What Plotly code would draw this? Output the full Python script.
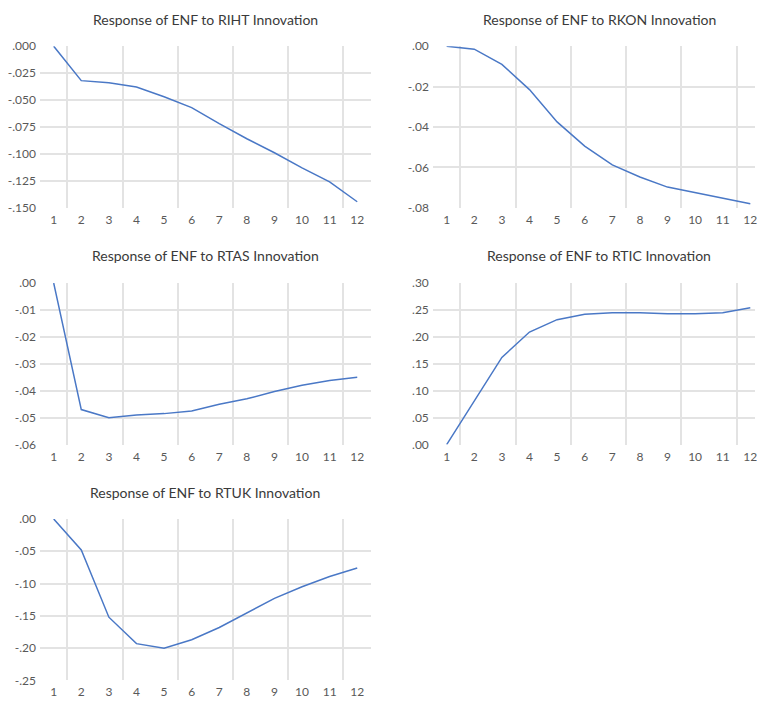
import plotly.graph_objects as go

# ---- data ----
periods = list(range(1, 13))
period_labels = [str(p) for p in periods]

resp_riht = [0.0, -0.032, -0.034, -0.038, -0.047, -0.057, -0.072, -0.086, -0.099, -0.113, -0.126, -0.1445]
resp_rkon = [0.0, -0.0015, -0.009, -0.0215, -0.0375, -0.0495, -0.0588, -0.0648, -0.0698, -0.0725, -0.075, -0.078]
resp_rtas = [0.0, -0.047, -0.050, -0.049, -0.0485, -0.0475, -0.045, -0.043, -0.0403, -0.038, -0.0362, -0.035]
resp_rtic = [0.0, 0.081, 0.162, 0.209, 0.232, 0.242, 0.245, 0.245, 0.243, 0.243, 0.245, 0.254]
resp_rtuk = [0.0, -0.048, -0.152, -0.193, -0.200, -0.187, -0.168, -0.145, -0.123, -0.105, -0.089, -0.076]

yticks_riht = [0.0, -0.025, -0.05, -0.075, -0.1, -0.125, -0.15]
yticks_rkon = [0.0, -0.02, -0.04, -0.06, -0.08]
yticks_rtas = [0.0, -0.01, -0.02, -0.03, -0.04, -0.05, -0.06]
yticks_rtic = [0.30, 0.25, 0.20, 0.15, 0.10, 0.05, 0.0]
yticks_rtuk = [0.0, -0.05, -0.10, -0.15, -0.20, -0.25]

titles = [
    "Response of ENF to RIHT Innovation",
    "Response of ENF to RKON Innovation",
    "Response of ENF to RTAS Innovation",
    "Response of ENF to RTIC Innovation",
    "Response of ENF to RTUK Innovation",
]


def fmt(v, dec):
    s = f"{v:.{dec}f}"
    if s.startswith("-") and float(s) == 0:
        s = s[1:]
    if s.startswith("0."):
        s = s[1:]
    elif s.startswith("-0."):
        s = "-" + s[2:]
    return s


W, H = 757, 710
LINE = "#4a78c6"
GRID = "#e3e3e3"
TXT = "#595959"
FONT = "Lato"

left_x = [40 / W, 372 / W]
right_x = [434 / W, 1.0]
rows_y = [
    [1 - 204 / H, 1 - 39 / H],
    [1 - 446 / H, 1 - 281 / H],
    [1 - 687 / H, 1 - 522 / H],
]
title_y = [1 - 12 / H, 1 - 253 / H, 1 - 495 / H]
title_x = [206 / W, 601 / W]

panels = [
    (resp_riht, yticks_riht, 3, 0, 0, [0.5, 12.5]),
    (resp_rkon, yticks_rkon, 2, 1, 0, [0.5, 12.17]),
    (resp_rtas, yticks_rtas, 2, 0, 1, [0.5, 12.5]),
    (resp_rtic, yticks_rtic, 2, 1, 1, [0.5, 12.17]),
    (resp_rtuk, yticks_rtuk, 2, 0, 2, [0.5, 12.5]),
]

fig = go.Figure()
annotations = []
grid_x = [p + 0.5 for p in periods[:-1:2]]

for i, (vals, yt, dec, col, row, xr) in enumerate(panels):
    n = "" if i == 0 else str(i + 1)
    xdom = left_x if col == 0 else right_x
    fig.add_trace(go.Scatter(
        x=periods, y=vals, mode="lines",
        line=dict(color=LINE, width=1.5),
        xaxis="x" + n, yaxis="y" + n, showlegend=False, hoverinfo="x+y",
    ))
    inner = [v for v in yt if v not in (max(yt), min(yt))]
    fig.update_layout(**{
        "xaxis" + n: dict(
            domain=xdom, anchor="y" + n, range=xr,
            tickmode="array", tickvals=periods, ticktext=period_labels,
            showgrid=False, zeroline=False, showline=False, ticks="",
            ticklabelstandoff=3, ticklabeloverflow="allow",
            tickfont=dict(family=FONT, size=12, color=TXT),
            minor=dict(tickmode="array", tickvals=grid_x, showgrid=True,
                       gridcolor=GRID, gridwidth=1.5, ticks=""),
        ),
        "yaxis" + n: dict(
            domain=rows_y[row], anchor="x" + n, range=[min(yt), max(yt)],
            tickmode="array", tickvals=yt, ticktext=[fmt(v, dec) for v in yt],
            showgrid=False, zeroline=False, showline=False, ticks="",
            ticklabelstandoff=3,
            tickfont=dict(family=FONT, size=12, color=TXT),
            minor=dict(tickmode="array", tickvals=inner, showgrid=True,
                       gridcolor=GRID, gridwidth=1.5, ticks=""),
        ),
    })
    annotations.append(dict(
        text=titles[i], xref="paper", yref="paper",
        x=title_x[col], y=title_y[row],
        xanchor="center", yanchor="middle", showarrow=False,
        font=dict(family=FONT, size=14, color="#3a3a3a"),
    ))

fig.update_layout(
    width=W, height=H,
    margin=dict(l=0, r=0, t=0, b=0),
    paper_bgcolor="white", plot_bgcolor="white",
    annotations=annotations,
)

fig.write_html(
    "out.html",
    config={"displayModeBar": False},
    post_script="document.body.style.margin='0';document.body.style.overflow='hidden';",
)
